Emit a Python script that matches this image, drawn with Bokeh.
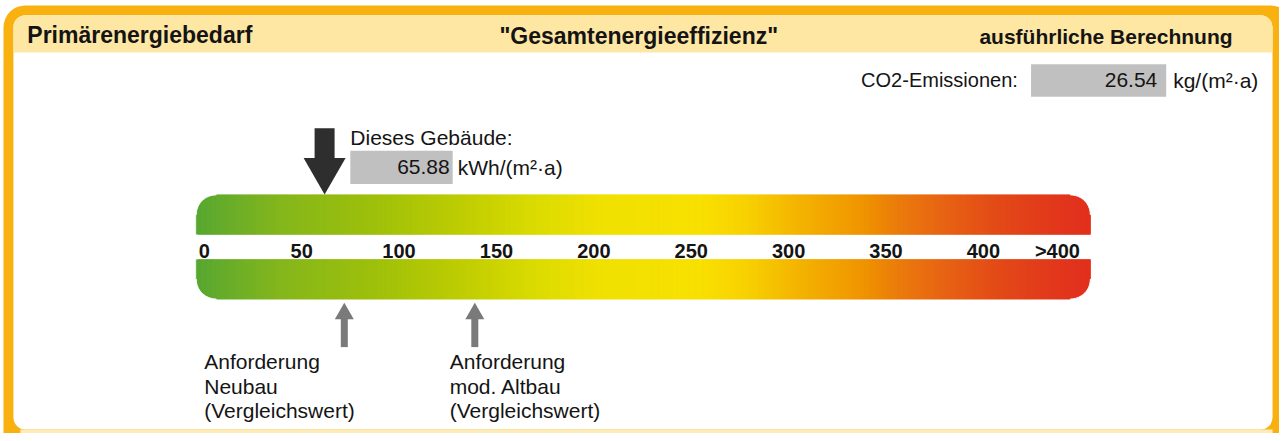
import numpy as np
from bokeh.plotting import figure
from bokeh.models import Range1d, Label, BoxAnnotation
from bokeh.core.properties import value
from bokeh.embed import file_html
from bokeh.resources import INLINE

# ---------------- data ----------------
TICK_VALUES = [0, 50, 100, 150, 200, 250, 300, 350, 400]
TICK_LABELS = ["0", "50", "100", "150", "200", "250", "300", "350", "400"]
OVERFLOW_LABEL = ">400"
OVERFLOW_POS = 438
SCALE_END = 459                      # end of the colour bar (kWh/(m²·a))
BUILDING_VALUE = 65.88               # Primärenergiebedarf dieses Gebäudes
CO2_VALUE = 26.54                    # CO2-Emissionen kg/(m²·a)
REQ_VALUES = [76, 143]               # Anforderung Neubau / mod. Altbau
REQ_TEXTS = [["Anforderung", "Neubau", "(Vergleichswert)"],
             ["Anforderung", "mod. Altbau", "(Vergleichswert)"]]
TITLE_LEFT = "Primärenergiebedarf"
TITLE_MID = "\"Gesamtenergieeffizienz\""
TITLE_RIGHT = "ausführliche Berechnung"

# colour stops of the scale
STOP_V = [0, 42, 93, 140, 175, 206, 257, 282, 308, 343, 359, 384, 410, 435, 459]
STOP_C = ["#58a832", "#84b71d", "#a0c10b", "#c2cf03", "#dcdc00", "#f0e100",
          "#f8e200", "#f8d200", "#f5b600", "#f09400", "#ec7e0c", "#e86414",
          "#e44c18", "#e23c1c", "#e2301e"]

# ---------------- layout ----------------
W, H = 1279, 433
RW, RH = 1287, 441                   # reference coordinate space
PX0, K = 197.0, 1.96                 # px of value 0, px per unit

p = figure(width=W, height=H, output_backend="svg", toolbar_location=None,
           x_range=Range1d(0, RW), y_range=Range1d(RH, 0),
           x_axis_location=None, y_axis_location=None, min_border=0,
           background_fill_color="white", border_fill_color="white")
p.extra_x_ranges = {"val": Range1d(-PX0 / K, (RW - PX0) / K)}
p.grid.visible = False
p.outline_line_color = None

ORANGE = "#f9b10f"
HEADER = "#fee6a3"
FONT = "Liberation Sans"
TXT = "#141414"

def box(l, r, t, b, c, rad=0):
    p.add_layout(BoxAnnotation(left=l, right=r, top=t, bottom=b, fill_color=c,
                               fill_alpha=1, line_color=None, border_radius=rad,
                               level="underlay"))

# frame
box(3, 1300, 5, 470, ORANGE, 22)
box(13, 1280, 15, 437, "white", 12)
box(13, 1280, 15, 53, HEADER, (12, 12, 0, 0))
box(20, 1280, 437, 445, "#fdecb8")

def hex2rgb(c):
    return np.array([int(c[i:i + 2], 16) for i in (1, 3, 5)], dtype=float)

rgb = np.array([hex2rgb(c) for c in STOP_C])
edges = np.arange(0, SCALE_END + 1e-9, 1.0)
lefts = edges[:-1]
rights = np.minimum(edges[1:] + 1.0, SCALE_END)
mids = (edges[:-1] + edges[1:]) / 2
cols = []
for m in mids:
    r, g, b = (np.interp(m, STOP_V, rgb[:, j]) for j in range(3))
    cols.append("#%02x%02x%02x" % (int(r), int(g), int(b)))

TOP_BAND = (198, 238)
BOT_BAND = (264, 304)
n = len(lefts)
p.quad(left=list(lefts) * 2, right=list(rights) * 2,
       top=[TOP_BAND[0]] * n + [BOT_BAND[0]] * n,
       bottom=[TOP_BAND[1]] * n + [BOT_BAND[1]] * n,
       fill_color=cols * 2, line_color=cols * 2, line_width=0.6,
       x_range_name="val")

# rounded corner masks (white)
R = 20.0
def corner(xv, y, sx, sy):
    th = np.linspace(0, np.pi / 2, 20)
    cx = xv + sx * R / K
    cy = y + sy * R
    xs = [xv - sx * 1.0, xv - sx * 1.0] + list(cx - sx * (R / K) * np.cos(th)) + [cx]
    ys = [y - sy * 2, cy] + list(cy - sy * R * np.sin(th)) + [y - sy * 2]
    return xs, ys

cs = [corner(0, TOP_BAND[0], 1, 1), corner(SCALE_END, TOP_BAND[0], -1, 1),
      corner(0, BOT_BAND[1], 1, -1), corner(SCALE_END, BOT_BAND[1], -1, -1)]
p.patches(xs=[c[0] for c in cs], ys=[c[1] for c in cs], fill_color="white",
          line_color="white", line_width=1, x_range_name="val")

# tick labels
p.text(x=TICK_VALUES + [OVERFLOW_POS], y=[255] * (len(TICK_VALUES) + 1),
       text=TICK_LABELS + [OVERFLOW_LABEL], x_range_name="val",
       text_align="center", text_baseline="middle", x_offset=8,
       text_font=value(FONT), text_font_style="bold", text_font_size="20px",
       text_color=TXT)

def lab(x, y, t, size, bold=False, align="left"):
    p.add_layout(Label(x=x, y=y, text=t, text_font=FONT, text_font_size=f"{size}px",
                       text_font_style="bold" if bold else "normal", text_color=TXT,
                       text_align=align, text_baseline="middle"))

# header texts
lab(27, 35, TITLE_LEFT, 23, True)
lab(502, 36, TITLE_MID, 23, True)
lab(985, 37, TITLE_RIGHT, 21, True)

# CO2
lab(866, 81, "CO2-Emissionen:", 20)
box(1037, 1173, 65, 98, "#c0c0c0")
lab(1164, 81, f"{CO2_VALUE:.2f}", 21, align="right")
lab(1180, 81, "kg/(m²·a)", 21)

# building
lab(352, 140, "Dieses Gebäude:", 21)
box(352, 455, 153, 187, "#c0c0c0")
lab(452, 170, f"{BUILDING_VALUE:.2f}", 21, align="right")
lab(460, 170, "kWh/(m²·a)", 21)

# building arrow (down)
p.rect(x=[BUILDING_VALUE], y=[147], width=20, width_units="screen", height=34,
       fill_color="#2e2e2e", line_color=None, x_range_name="val")
p.scatter(x=[BUILDING_VALUE], y=[172.8], marker="triangle", size=42, angle=np.pi,
          fill_color="#2e2e2e", line_color=None, x_range_name="val")

# requirement arrows (up)
p.rect(x=REQ_VALUES, y=[338, 338], width=7, width_units="screen", height=30,
       fill_color="#7a7a7a", line_color=None, x_range_name="val")
p.scatter(x=REQ_VALUES, y=[319, 319], marker="triangle", size=19,
          fill_color="#7a7a7a", line_color=None, x_range_name="val")

for x0, lines in zip([205, 452], REQ_TEXTS):
    for i, t in enumerate(lines):
        lab(x0, 368 + 25 * i, t, 21)

open("out.html", "w").write(file_html(p, INLINE))
